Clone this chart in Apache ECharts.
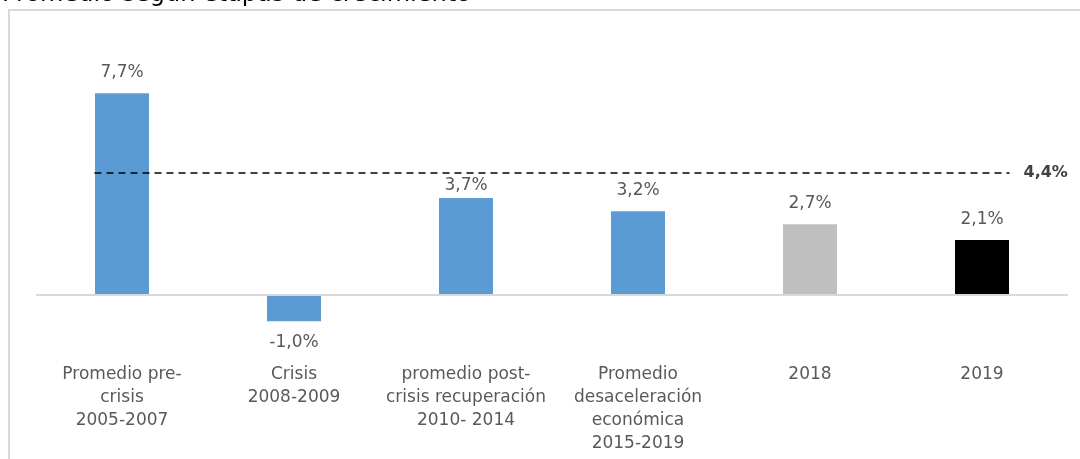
<!DOCTYPE html>
<html>
<head>
<meta charset="utf-8">
<script src="https://cdn.jsdelivr.net/npm/echarts@6/dist/echarts.min.js"></script>
<style>
html,body{margin:0;padding:0;background:#fff;}
#chart{width:1080px;height:459px;}
</style>
</head>
<body>
<div id="chart"></div>
<script>
const title = 'Promedio según etapas de crecimiento';
const categories = [
  'Promedio pre-\ncrisis\n2005-2007',
  'Crisis\n2008-2009',
  'promedio post-\ncrisis recuperación\n2010- 2014',
  'Promedio\ndesaceleración\neconómica\n2015-2019',
  '2018',
  '2019'
];
const values = [7.7, -1.0, 3.7, 3.2, 2.7, 2.1];
const barColors = ['#5B9BD5', '#5B9BD5', '#5B9BD5', '#5B9BD5', '#BFBFBF', '#000000'];
const averageValue = 4.4;
const averageLineExtent = [-0.16, 5.16];

const fmt = v => v.toFixed(1).replace('.', ',') + '%';

const barData = values.map((v, i) => {
  const d = { value: v, itemStyle: { color: barColors[i] } };
  if (v < 0) d.label = { position: 'bottom', distance: 13 };
  else if (i === 2) d.label = { distance: 4 };
  return d;
});

const chart = echarts.init(document.getElementById('chart'));
chart.setOption({
  animation: false,
  backgroundColor: '#fff',
  title: {
    text: title,
    left: -3,
    top: -22,
    textStyle: { fontFamily: 'DejaVu Sans', fontSize: 24, fontWeight: 'normal', color: '#000' }
  },
  graphic: [{
    type: 'rect',
    shape: { x: 9, y: 10, width: 1200, height: 600 },
    style: { fill: 'none', stroke: '#d9d9d9', lineWidth: 2 },
    silent: true, z: -1
  }],
  grid: { left: 36, right: 12, top: 85.4, bottom: 111.6 },
  xAxis: [
    {
      type: 'category',
      data: categories,
      axisLine: { show: false, onZero: false },
      axisTick: { show: false },
      axisLabel: {
        interval: 0,
        margin: 16,
        color: '#595959',
        fontFamily: 'DejaVu Sans',
        fontSize: 17,
        lineHeight: 23
      }
    },
    { type: 'value', min: -0.5, max: 5.5, show: false }
  ],
  yAxis: [
    { type: 'value', min: -2, max: 8, show: false, splitLine: { show: false } },
    { type: 'value', min: -1.89, max: 7.559, show: false, splitLine: { show: false } }
  ],
  series: [
    {
      type: 'bar',
      xAxisIndex: 0,
      yAxisIndex: 0,
      barWidth: 54,
      data: barData,
      label: {
        show: true,
        position: 'top',
        distance: 12,
        formatter: p => fmt(p.value),
        color: '#595959',
        fontFamily: 'DejaVu Sans',
        fontSize: 17
      },
      markLine: {
        silent: true,
        symbol: 'none',
        label: { show: false },
        lineStyle: { color: '#d9d9d9', width: 2, type: 'solid' },
        data: [{ yAxis: 0 }]
      }
    },
    {
      type: 'line',
      xAxisIndex: 1,
      yAxisIndex: 1,
      symbol: 'none',
      data: averageLineExtent.map(x => [x, averageValue]),
      lineStyle: { color: '#000', width: 1.5, type: [7, 5] },
      endLabel: {
        show: true,
        distance: 14,
        formatter: () => fmt(averageValue),
        color: '#404040',
        fontFamily: 'DejaVu Sans',
        fontSize: 16,
        fontWeight: 'bold'
      }
    }
  ]
});
</script>
</body>
</html>
